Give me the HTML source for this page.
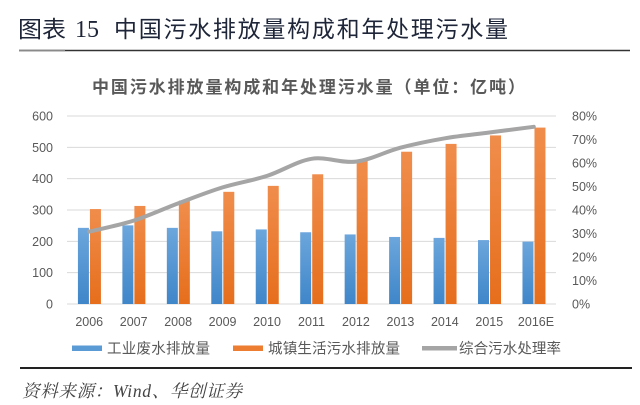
<!DOCTYPE html>
<html><head><meta charset="utf-8">
<style>
html,body{margin:0;padding:0;background:#fff;}
svg{display:block;}
</style></head>
<body>
<svg width="640" height="405" viewBox="0 0 640 405" xmlns="http://www.w3.org/2000/svg">
<defs>
<linearGradient id="gb" x1="0" y1="0" x2="0" y2="1">
<stop offset="0" stop-color="#6ca6dc"/><stop offset="1" stop-color="#3f86c9"/>
</linearGradient>
<linearGradient id="go" x1="0" y1="0" x2="0" y2="1">
<stop offset="0" stop-color="#f08d4c"/><stop offset="1" stop-color="#e66e1c"/>
</linearGradient>
</defs>
<rect width="640" height="405" fill="#fff"/>

<!-- Main title -->
<g font-family="'Liberation Sans','Noto Sans CJK SC',sans-serif" fill="#1e2538" font-size="23">
<text x="18" y="37" textLength="48" lengthAdjust="spacingAndGlyphs">图表</text>
<text x="75" y="37" font-family="'Liberation Serif',serif" font-size="24">15</text>
<text x="114" y="37" textLength="394" lengthAdjust="spacing">中国污水排放量构成和年处理污水量</text>
</g>
<line x1="19" y1="50.5" x2="630" y2="50.5" stroke="#333" stroke-width="1.6"/>
<line x1="19" y1="50.5" x2="65" y2="50.5" stroke="#8a8a8a" stroke-width="1.6"/>

<!-- Chart title -->
<text x="92" y="93" font-family="'Liberation Sans','Noto Sans CJK SC',sans-serif" font-size="17" font-weight="bold" fill="#595959" textLength="433" lengthAdjust="spacing">中国污水排放量构成和年处理污水量（单位：亿吨）</text>

<!-- Gridlines -->
<g stroke="#d9d9d9" stroke-width="1">
<line x1="67" y1="116" x2="556" y2="116"/>
<line x1="67" y1="147.33" x2="556" y2="147.33"/>
<line x1="67" y1="178.67" x2="556" y2="178.67"/>
<line x1="67" y1="210" x2="556" y2="210"/>
<line x1="67" y1="241.33" x2="556" y2="241.33"/>
<line x1="67" y1="272.67" x2="556" y2="272.67"/>
<line x1="67" y1="304" x2="556" y2="304"/>
</g>

<!-- Left axis labels -->
<g font-family="'Liberation Sans',sans-serif" font-size="12.5" fill="#595959" text-anchor="end">
<text x="53" y="120.5">600</text>
<text x="53" y="151.8">500</text>
<text x="53" y="183.2">400</text>
<text x="53" y="214.5">300</text>
<text x="53" y="245.8">200</text>
<text x="53" y="277.2">100</text>
<text x="53" y="308.5">0</text>
</g>
<!-- Right axis labels -->
<g font-family="'Liberation Sans',sans-serif" font-size="12.5" fill="#595959">
<text x="572" y="120.5">80%</text>
<text x="572" y="144">70%</text>
<text x="572" y="167.5">60%</text>
<text x="572" y="191">50%</text>
<text x="572" y="214.5">40%</text>
<text x="572" y="238">30%</text>
<text x="572" y="261.5">20%</text>
<text x="572" y="285">10%</text>
<text x="572" y="308.5">0%</text>
</g>

<!-- Blue bars -->
<g fill="url(#gb)">
<rect x="77.93" y="227.86" width="11" height="76.14"/>
<rect x="122.38" y="225.35" width="11" height="78.65"/>
<rect x="166.84" y="227.86" width="11" height="76.14"/>
<rect x="211.29" y="231.31" width="11" height="72.69"/>
<rect x="255.75" y="229.43" width="11" height="74.57"/>
<rect x="300.2" y="232.25" width="11" height="71.75"/>
<rect x="344.65" y="234.44" width="11" height="69.56"/>
<rect x="389.11" y="236.95" width="11" height="67.05"/>
<rect x="433.56" y="237.89" width="11" height="66.11"/>
<rect x="478.02" y="240.08" width="11" height="63.92"/>
<rect x="522.47" y="241.65" width="11" height="62.35"/>
</g>
<!-- Orange bars -->
<g fill="url(#go)">
<rect x="89.93" y="209.06" width="11" height="94.94"/>
<rect x="134.38" y="205.93" width="11" height="98.07"/>
<rect x="178.84" y="200.6" width="11" height="103.4"/>
<rect x="223.29" y="191.83" width="11" height="112.17"/>
<rect x="267.75" y="185.87" width="11" height="118.13"/>
<rect x="312.2" y="174.28" width="11" height="129.72"/>
<rect x="356.65" y="159.87" width="11" height="144.13"/>
<rect x="401.11" y="151.72" width="11" height="152.28"/>
<rect x="445.56" y="143.89" width="11" height="160.11"/>
<rect x="490.02" y="135.43" width="11" height="168.57"/>
<rect x="534.47" y="127.59" width="11" height="176.41"/>
</g>

<!-- Line -->
<path d="M89.23,231.6 C96.64,229.77 118.86,225.3 133.68,220.6 C148.5,215.9 163.32,208.93 178.14,203.4 C192.96,197.87 207.77,191.98 222.59,187.4 C237.41,182.82 252.23,180.67 267.05,175.9 C281.87,171.13 296.68,161.18 311.5,158.8 C326.32,156.42 341.13,163.45 355.95,161.6 C370.77,159.75 385.59,151.58 400.41,147.7 C415.23,143.82 430.04,140.83 444.86,138.3 C459.68,135.77 474.5,134.42 489.32,132.5 C504.14,130.58 526.36,127.75 533.77,126.8" fill="none" stroke="#a5a5a5" stroke-width="4" stroke-linecap="round" stroke-linejoin="round"/>

<!-- X labels -->
<g font-family="'Liberation Sans',sans-serif" font-size="12.5" fill="#595959" text-anchor="middle">
<text x="89.23" y="326">2006</text>
<text x="133.68" y="326">2007</text>
<text x="178.14" y="326">2008</text>
<text x="222.59" y="326">2009</text>
<text x="267.05" y="326">2010</text>
<text x="311.5" y="326">2011</text>
<text x="355.95" y="326">2012</text>
<text x="400.41" y="326">2013</text>
<text x="444.86" y="326">2014</text>
<text x="489.32" y="326">2015</text>
<text x="536" y="326">2016E</text>
</g>

<!-- Legend -->
<rect x="72" y="345.5" width="30" height="5.5" fill="#5b9bd5"/>
<rect x="233" y="345.5" width="30" height="5.5" fill="#ed7d31"/>
<line x1="422" y1="348.2" x2="457" y2="348.2" stroke="#a5a5a5" stroke-width="4.5"/>
<g font-family="'Liberation Sans','Noto Sans CJK SC',sans-serif" font-size="14.5" fill="#595959">
<text x="107" y="353.5" textLength="103" lengthAdjust="spacing">工业废水排放量</text>
<text x="268" y="353.5" textLength="132" lengthAdjust="spacing">城镇生活污水排放量</text>
<text x="459" y="353.5" textLength="102" lengthAdjust="spacing">综合污水处理率</text>
</g>

<!-- Bottom rule -->
<line x1="20" y1="368" x2="632" y2="368" stroke="#222" stroke-width="2"/>

<!-- Source -->
<text x="22" y="397" font-family="'Liberation Serif','Noto Serif CJK SC',serif" font-style="italic" font-size="17.5" fill="#444" textLength="220" lengthAdjust="spacing">资料来源：Wind、华创证券</text>
</svg>
</body></html>
